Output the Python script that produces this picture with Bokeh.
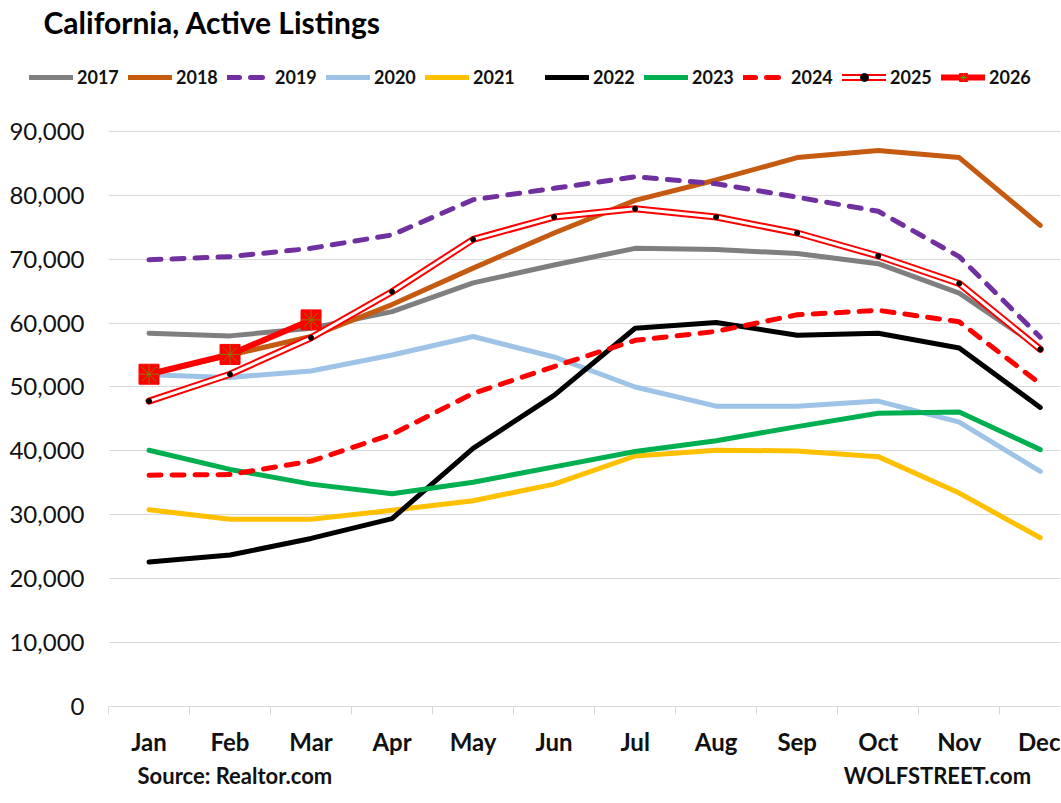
from bokeh.plotting import figure
from bokeh.models import (Range1d, FixedTicker, NumeralTickFormatter, Legend, LegendItem,
                          Label, LinearAxis)
from bokeh.embed import file_html
from bokeh.resources import INLINE

months = ["Jan", "Feb", "Mar", "Apr", "May", "Jun", "Jul", "Aug", "Sep", "Oct", "Nov", "Dec"]
y_ticks = [0, 10000, 20000, 30000, 40000, 50000, 60000, 70000, 80000, 90000]

s2017 = [58400, 58000, 59200, 61800, 66300, 69100, 71700, 71500, 70900, 69300, 64700, 56100]
s2018 = [52000, 55000, 57900, 62900, 68600, 74100, 79200, 82400, 85900, 87000, 85900, 75300]
s2019 = [69900, 70400, 71700, 73800, 79300, 81100, 82900, 81800, 79700, 77500, 70400, 57800]
s2020 = [51900, 51500, 52500, 55000, 57900, 54700, 50000, 47000, 47000, 47800, 44500, 36800]
s2021 = [30800, 29300, 29300, 30700, 32200, 34800, 39200, 40100, 40000, 39100, 33400, 26400]
s2022 = [22600, 23700, 26300, 29400, 40400, 48700, 59200, 60100, 58100, 58400, 56100, 46800]
s2023 = [40100, 37100, 34800, 33300, 35100, 37500, 39900, 41600, 43800, 45900, 46100, 40200]
s2024 = [36200, 36300, 38400, 42600, 49000, 53200, 57300, 58700, 61300, 62000, 60200, 50500]
s2025 = [47800, 52000, 57700, 64900, 73100, 76600, 77900, 76600, 74100, 70500, 66200, 55900]
s2026 = [52000, 55100, 60500]

title_text = "California, Active Listings"
footer_texts = ["Source: Realtor.com", "WOLFSTREET.com"]
footer_pos = [1.06, 9.73]

xs = list(range(len(months)))
x26 = xs[:len(s2026)]
FONT = "Lato"


def draw_series(fig):
    LW = 5
    r = {}
    r["2017"] = [fig.line(xs, s2017, line_color="#7f7f7f", line_width=LW, line_join="round", line_cap="round")]
    r["2018"] = [fig.line(xs, s2018, line_color="#c55a11", line_width=LW, line_join="round", line_cap="round")]
    r["2019"] = [fig.line(xs, s2019, line_color="#7030a0", line_width=LW, line_join="round", line_cap="round",
                          line_dash="12 11")]
    r["2020"] = [fig.line(xs, s2020, line_color="#9dc3e6", line_width=LW, line_join="round", line_cap="round")]
    r["2021"] = [fig.line(xs, s2021, line_color="#ffc000", line_width=LW, line_join="round", line_cap="round")]
    r["2022"] = [fig.line(xs, s2022, line_color="#000000", line_width=LW, line_join="round", line_cap="round")]
    r["2023"] = [fig.line(xs, s2023, line_color="#00b050", line_width=LW, line_join="round", line_cap="round")]
    r["2024"] = [fig.line(xs, s2024, line_color="#ff0000", line_width=LW, line_join="round", line_cap="round",
                          line_dash="12 11")]
    r["2025"] = [fig.line(xs, s2025, line_color="#ff0000", line_width=7, line_join="round", line_cap="round"),
                 fig.line(xs, s2025, line_color="#ffffff", line_width=3, line_join="round", line_cap="round"),
                 fig.scatter(xs, s2025, marker="circle", size=5, fill_color="black", line_color="black")]
    r["2026"] = [fig.line(x26, s2026, line_color="#ff0000", line_width=6, line_join="round", line_cap="round"),
                 fig.scatter(x26, s2026, marker="square", size=20, fill_color="#ff0000", line_color="#ff0000"),
                 fig.scatter(x26, s2026, marker="asterisk", size=20, line_color="#8a7a00", line_width=1)]
    return r


# ---------- header: title + legend ----------
header = figure(width=1060, height=95, output_backend="svg", toolbar_location=None,
                x_range=Range1d(0, 1060), y_range=Range1d(95, 0),
                x_axis_location=None, y_axis_location=None,
                min_border=0, min_border_left=0, min_border_right=0,
                min_border_top=0, min_border_bottom=0, title=None)
header.grid.visible = False
header.outline_line_color = None
header.background_fill_color = "white"
header.border_fill_color = "white"
hr = draw_series(header)

leg_style = dict(orientation="horizontal", glyph_width=44, glyph_height=20, label_standoff=4,
                 label_width=42, spacing=9, padding=0, margin=0, border_line_color=None,
                 background_fill_alpha=0, label_text_font=FONT, label_text_font_style="bold",
                 label_text_font_size="18px", label_text_color="#111111", label_height=20)
years1 = ["2017", "2018", "2019", "2020", "2021"]
years2 = ["2022", "2023", "2024", "2025", "2026"]
header.add_layout(Legend(items=[LegendItem(label=y, renderers=hr[y]) for y in years1],
                         location=(29, 7), **leg_style))
header.add_layout(Legend(items=[LegendItem(label=y, renderers=hr[y]) for y in years2],
                         location=(545, 7), **leg_style))
header.add_layout(Label(x=43, y=21, text=title_text, text_font=FONT, text_font_style="bold",
                        text_font_size="30px", text_baseline="middle", text_align="left",
                        text_color="#000000"))

# ---------- main chart ----------
p = figure(frame_width=952, frame_height=611, output_backend="svg", toolbar_location=None,
           x_range=Range1d(-0.5, 11.25), y_range=Range1d(0, 95618),
           min_border_left=108, min_border_right=0, min_border_top=0, min_border_bottom=0,
           title=None)
p.outline_line_color = None
p.background_fill_color = "white"
p.border_fill_color = "white"

p.xgrid.visible = False
p.ygrid.grid_line_color = "#d9d9d9"
p.ygrid.grid_line_width = 1

p.yaxis.ticker = FixedTicker(ticks=y_ticks)
p.yaxis.formatter = NumeralTickFormatter(format="0,0")
p.yaxis.axis_line_color = None
p.yaxis.major_tick_line_color = None
p.yaxis.minor_tick_line_color = None
p.yaxis.major_tick_out = 0
p.yaxis.major_label_standoff = 24
p.yaxis.major_label_text_font = FONT
p.yaxis.major_label_text_font_size = "24px"
p.yaxis.major_label_text_color = "#111111"

p.xaxis.ticker = FixedTicker(ticks=xs, minor_ticks=[i - 0.5 for i in xs])
p.xaxis.major_label_overrides = {i: m for i, m in zip(xs, months)}
p.xaxis.axis_line_color = "#d9d9d9"
p.xaxis.major_tick_out = 0
p.xaxis.major_tick_in = 0
p.xaxis.minor_tick_out = 8
p.xaxis.minor_tick_in = 0
p.xaxis.minor_tick_line_color = "#d9d9d9"
p.xaxis.major_label_standoff = 12
p.xaxis.major_label_text_font = FONT
p.xaxis.major_label_text_font_style = "bold"
p.xaxis.major_label_text_font_size = "24px"
p.xaxis.major_label_text_color = "#111111"

fax = LinearAxis(ticker=FixedTicker(ticks=footer_pos),
                 major_label_overrides={pos: t for pos, t in zip(footer_pos, footer_texts)})
fax.axis_line_color = None
fax.major_tick_line_color = None
fax.minor_tick_line_color = None
fax.major_tick_out = 0
fax.major_tick_in = 0
fax.minor_tick_out = 0
fax.minor_tick_in = 0
fax.major_label_standoff = 3
fax.major_label_text_font = FONT
fax.major_label_text_font_style = "bold"
fax.major_label_text_font_size = "22px"
fax.major_label_text_color = "#111111"
p.add_layout(fax, "below")

draw_series(p)

open("out.html", "w").write(file_html([header, p], INLINE))
